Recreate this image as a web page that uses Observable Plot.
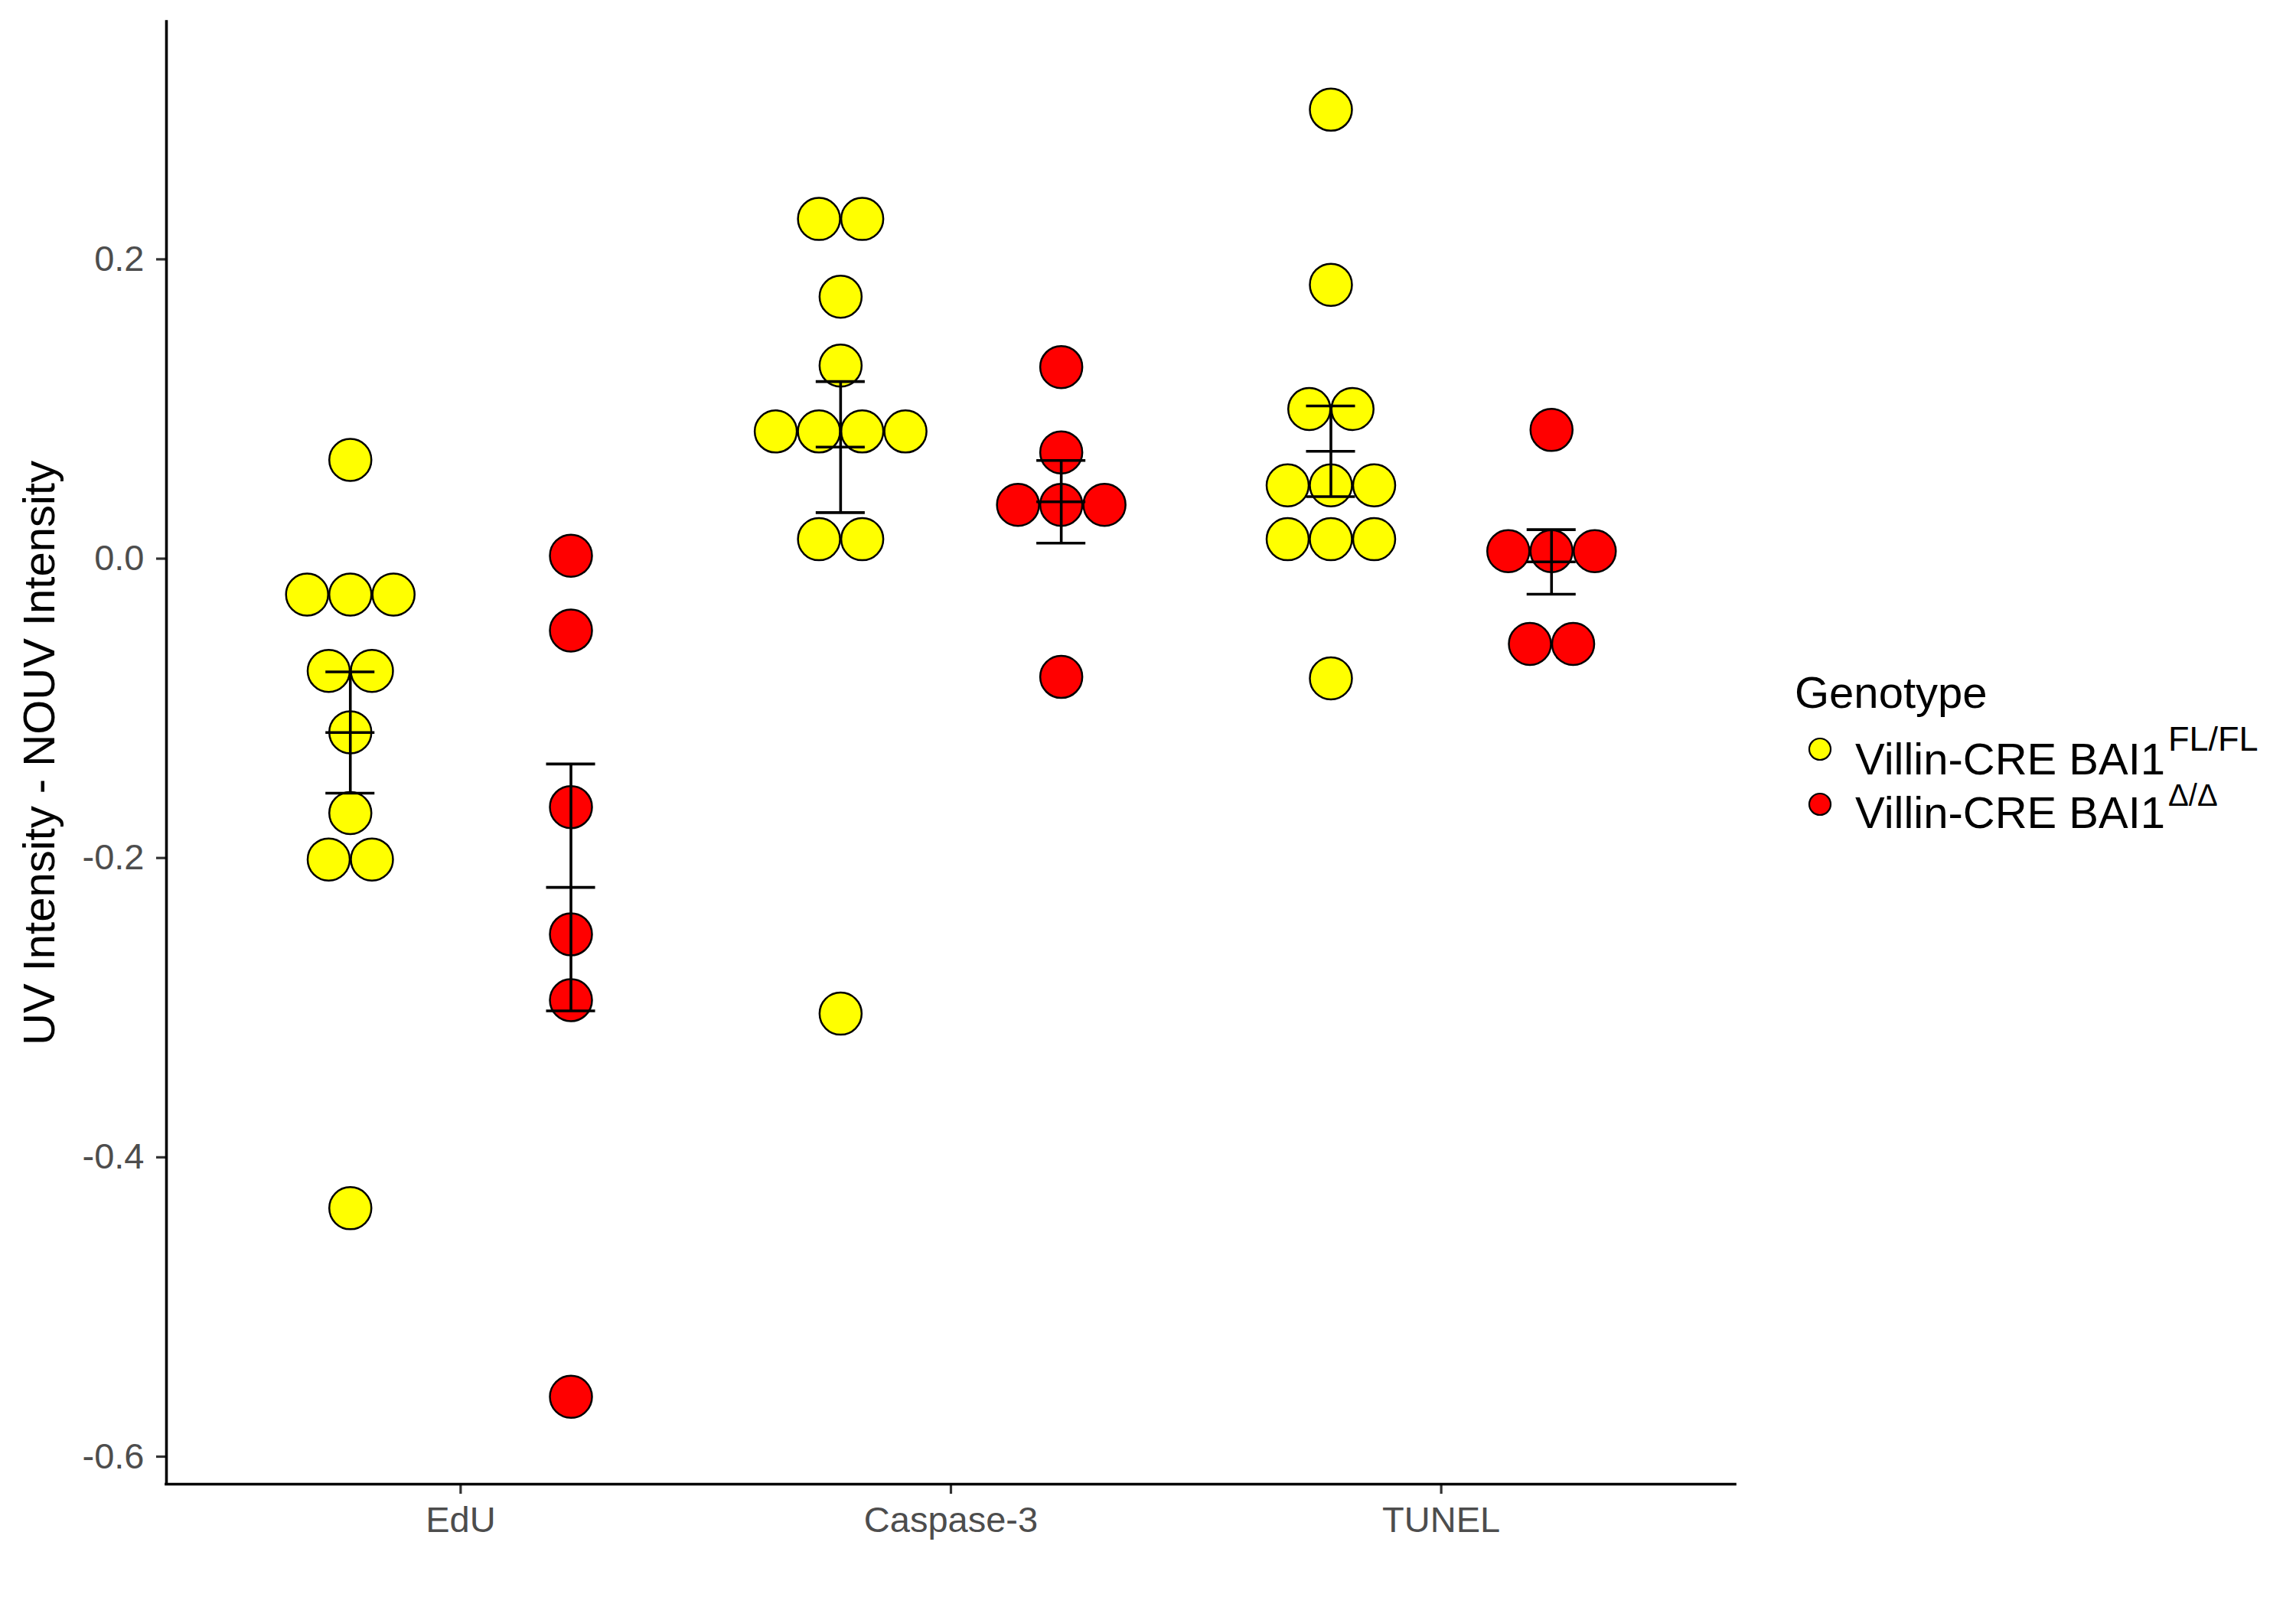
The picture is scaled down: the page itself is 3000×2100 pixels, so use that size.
<!DOCTYPE html>
<html>
<head>
<meta charset="utf-8">
<script src="https://cdn.jsdelivr.net/npm/d3@7"></script>
<script src="https://cdn.jsdelivr.net/npm/@observablehq/plot@0.6"></script>
<style>
  html, body { margin: 0; padding: 0; background: #ffffff; }
  #wrap { position: relative; width: 3000px; height: 2100px; background: #ffffff; }
  #legend { position: absolute; left: 0; top: 0; pointer-events: none; }
</style>
</head>
<body>
<div id="wrap"></div>
<script>
// ---- Data ----
const categories = ["EdU", "Caspase-3", "TUNEL"];
const genotypeBase = "Villin-CRE BAI1";
const genotypeSup = ["FL/FL", "Δ/Δ"];
const genotypes = ["Villin-CRE BAI1 FL/FL", "Villin-CRE BAI1 Δ/Δ"];
const genotypeColors = ["#FFFF00", "#FF0000"];
const legendTitle = "Genotype";
const yLabel = "UV Intensity - NOUV Intensity";
const yTicks = [-0.6, -0.4, -0.2, 0, 0.2];

const eduFL    = [0.066, -0.024, -0.024, -0.024, -0.075, -0.075, -0.116, -0.170, -0.201, -0.201, -0.434];
const eduDel   = [0.002, -0.048, -0.166, -0.251, -0.295, -0.560];
const caspFL   = [0.227, 0.227, 0.175, 0.129, 0.085, 0.085, 0.085, 0.085, 0.013, 0.013, -0.304];
const caspDel  = [0.128, 0.071, 0.036, 0.036, 0.036, -0.079];
const tunelFL  = [0.300, 0.183, 0.100, 0.100, 0.049, 0.049, 0.049, 0.013, 0.013, 0.013, -0.080];
const tunelDel = [0.086, 0.005, 0.005, 0.005, -0.057, -0.057];

const series = [
  {cat: 0, g: 0, values: eduFL},
  {cat: 0, g: 1, values: eduDel},
  {cat: 1, g: 0, values: caspFL},
  {cat: 1, g: 1, values: caspDel},
  {cat: 2, g: 0, values: tunelFL},
  {cat: 2, g: 1, values: tunelDel}
];

// ---- Layout ----
const W = 3000, H = 2100;
const mLeft = 217, mRight = 733, mTop = 28, mBottom = 161;
const xDomain = [0.4, 3.6];
const yDomain = [-0.6184, 0.3587];
const dodge = 0.225, capHalf = 0.05;
const dotDiameterPx = 56.5;
const xUnitPx = (W - mLeft - mRight) / (xDomain[1] - xDomain[0]);
const stepX = dotDiameterPx / xUnitPx;

// dot stacking (centered rows of equal values, like geom_dotplot stackdir = "center")
const points = [];
const summary = [];
for (const s of series) {
  const center = s.cat + 1 + (s.g === 0 ? -dodge : dodge);
  const rows = d3.group(s.values, v => v);
  for (const [v, arr] of rows) {
    const n = arr.length;
    arr.forEach((_, i) => points.push({x: center + (i - (n - 1) / 2) * stepX, y: v, genotype: genotypes[s.g]}));
  }
  const m = d3.mean(s.values);
  const se = d3.deviation(s.values) / Math.sqrt(s.values.length);
  summary.push({x: center, mean: m, lo: m - se, hi: m + se});
}
const hLines = summary.flatMap(d => [{x: d.x, y: d.lo}, {x: d.x, y: d.mean}, {x: d.x, y: d.hi}]);

const font = "'Liberation Sans', Arial, Helvetica, sans-serif";

const chart = Plot.plot({
  width: W,
  height: H,
  marginLeft: mLeft,
  marginRight: mRight,
  marginTop: mTop,
  marginBottom: mBottom,
  style: {fontFamily: font, background: "#ffffff", overflow: "visible"},
  x: {type: "linear", domain: xDomain, label: null},
  y: {type: "linear", domain: yDomain, label: null},
  color: {domain: genotypes, range: genotypeColors},
  marks: [
    Plot.axisY(yTicks, {
      tickSize: 13, tickPadding: 16, tickFormat: d => d.toFixed(1),
      fontSize: 47, stroke: "#333333", strokeWidth: 3.2, fill: "#4d4d4d", label: null
    }),
    Plot.axisX([1, 2, 3], {
      tickSize: 13, tickPadding: 16, tickFormat: i => categories[i - 1],
      fontSize: 47, stroke: "#333333", strokeWidth: 3.2, fill: "#4d4d4d", label: null
    }),
    Plot.dot(points, {x: "x", y: "y", r: 27.5, fill: "genotype", stroke: "#000000", strokeWidth: 2.5}),
    Plot.ruleX(summary, {x: "x", y1: "lo", y2: "hi", stroke: "#000000", strokeWidth: 3.6}),
    Plot.ruleY(hLines, {y: "y", x1: d => d.x - capHalf, x2: d => d.x + capHalf, stroke: "#000000", strokeWidth: 3.6}),
    Plot.ruleX([xDomain[0]], {stroke: "#000000", strokeWidth: 3.6, strokeLinecap: "square"}),
    Plot.ruleY([yDomain[0]], {stroke: "#000000", strokeWidth: 3.6, strokeLinecap: "square"}),
    Plot.text([yLabel], {
      text: d => d, frameAnchor: "left", textAnchor: "middle", rotate: -90, dx: -165,
      fontSize: 58, fill: "#000000"
    })
  ]
});

const wrap = document.getElementById("wrap");
wrap.appendChild(chart);

// ---- Legend (to the right of the panel) ----
const leg = d3.select(wrap).append("svg")
  .attr("id", "legend")
  .attr("width", W).attr("height", H)
  .style("font-family", font);

leg.append("text")
  .attr("x", 2345).attr("y", 925)
  .attr("font-size", 58).attr("fill", "#000")
  .text(legendTitle);

const itemBaseline = [1012, 1082];
const itemDotY = [979, 1051];
const supSize = [45, 40];
genotypes.forEach((g, i) => {
  leg.append("circle")
    .attr("cx", 2378).attr("cy", itemDotY[i]).attr("r", 14)
    .attr("fill", genotypeColors[i]).attr("stroke", "#000").attr("stroke-width", 2.2);
  const t = leg.append("text")
    .attr("x", 2424).attr("y", itemBaseline[i])
    .attr("font-size", 58).attr("fill", "#000");
  t.append("tspan").text(genotypeBase);
  t.append("tspan").attr("dx", 4).attr("dy", i === 0 ? -31 : -29).attr("font-size", supSize[i]).text(genotypeSup[i]);
});
</script>
</body>
</html>
